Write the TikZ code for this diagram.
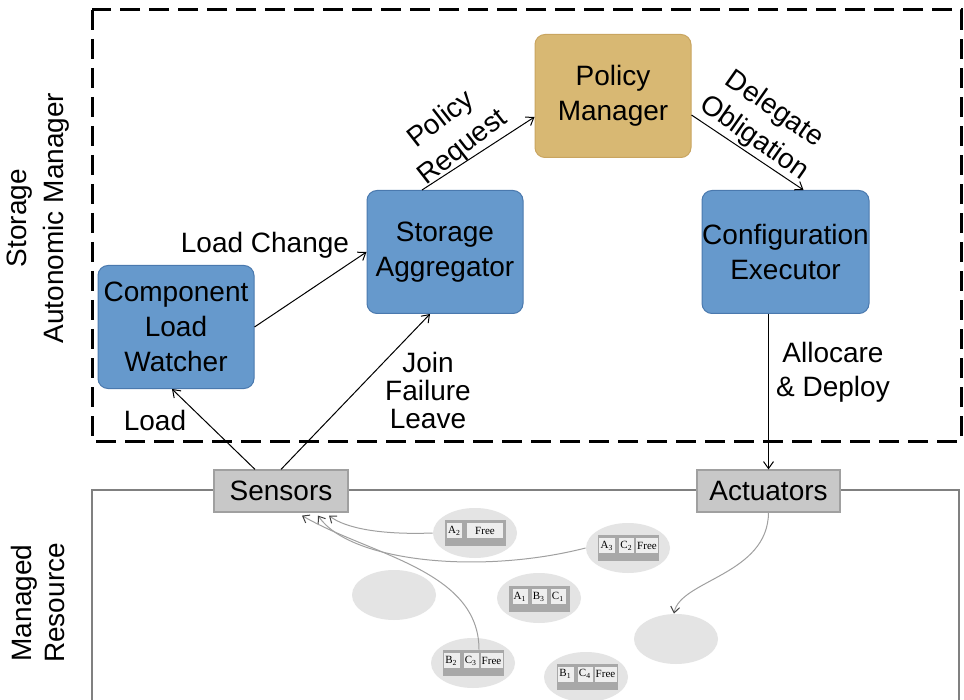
\documentclass[tikz,border=0pt]{standalone}
\usepackage{fontspec}
\setmainfont{Liberation Sans}
\newfontfamily\cellfont{Liberation Serif}
\usetikzlibrary{arrows.meta,shapes.geometric}
\definecolor{boxblue}{HTML}{6699CC}
\definecolor{boxblueb}{HTML}{4A79AE}
\definecolor{tanfill}{HTML}{D8B873}
\definecolor{tanline}{HTML}{C9A560}
\definecolor{sensfill}{HTML}{C8C8C8}
\definecolor{sensline}{HTML}{A0A0A0}
\definecolor{ellgray}{HTML}{E4E4E4}
\definecolor{bargray}{HTML}{A8A8A8}
\definecolor{cellgray}{HTML}{EEEEEE}
\definecolor{curvegray}{HTML}{A0A0A0}
\definecolor{mrline}{HTML}{808080}
\newcommand\barTwo[5]{%
  \node[barbox] (#1) at (#2,#3) {};
  \node[cellbox, minimum width=7.5pt] (#1a) at ({#2-20.5},{#3-2.5}) {#4};
  \node[cellbox, minimum width=18pt] (#1b) at ({#2+10},{#3-2.5}) {#5};}
\newcommand\barFree[5]{%
  \node[barbox] (#1) at (#2,#3) {};
  \node[cellbox, minimum width=8pt] (#1a) at ({#2-21.5},{#3-2.5}) {#4};
  \node[cellbox, minimum width=7.5pt] (#1b) at ({#2-2},{#3-2.5}) {#5};
  \node[cellbox, minimum width=11pt] (#1c) at ({#2+18.5},{#3-2.5}) {Free};}
\newcommand\barEq[6]{%
  \node[barbox] (#1) at (#2,#3) {};
  \node[cellbox, minimum width=7.5pt] (#1a) at ({#2-19},{#3-2.5}) {#4};
  \node[cellbox, minimum width=7.5pt] (#1b) at ({#2},{#3-2.5}) {#5};
  \node[cellbox, minimum width=7.5pt] (#1c) at ({#2+19},{#3-2.5}) {#6};}
\begin{document}
\begin{tikzpicture}[x=0.5pt,y=-0.5pt,
  txt/.style={font=\fontsize{14}{17.5}\selectfont, align=center, inner sep=0},
  mgr/.style={txt, draw=boxblueb, fill=boxblue, rounded corners=5pt, line width=0.5pt,
              minimum width=78pt, minimum height=61.5pt},
  pol/.style={mgr, draw=tanline, fill=tanfill},
  io/.style={txt, draw=sensline, fill=sensfill, line width=0.6pt, minimum height=21pt},
  arr/.style={draw=black, line width=0.5pt, -{Straight Barb[length=3.5pt,width=5pt]}},
  carr/.style={draw=curvegray, line width=0.5pt, -{Straight Barb[length=3pt,width=4.5pt,color=black!75]}},
  ell/.style={ellipse, fill=ellgray, minimum width=42pt, minimum height=25pt, inner sep=0},
  barbox/.style={fill=bargray, minimum width=30.5pt, minimum height=13pt, inner sep=0},
  cellbox/.style={fill=cellgray, minimum height=7.5pt, inner sep=0,
                  font=\cellfont\fontsize{5.5}{6}\selectfont}]
\useasboundingbox (0,0) rectangle (964,700);
\fill[white] (0,0) rectangle (964,700);
% frames
\draw[black, line width=1.5pt, dash pattern=on 10pt off 4.5pt] (92,10) rectangle (961,441);
\draw[mrline, line width=0.8pt] (92,700) -- (92,490) -- (959,490) -- (959,700);
% side labels
\node[txt, rotate=90, font=\fontsize{14}{18.5}\selectfont] (sam) at (38,218) {Storage\\Autonomic Manager};
\node[txt, rotate=90, font=\fontsize{14}{16.5}\selectfont] (mr) at (38,603) {Managed\\Resource};
% manager components
\node[mgr] (clw) at (176,327) {Component\\Load\\Watcher};
\node[mgr] (sa) at (445,252) {Storage\\Aggregator};
\node[pol] (pm) at (613,96) {Policy\\Manager};
\node[mgr, minimum width=83.5pt] (ce) at (785.5,252) {Configuration\\Executor};
% sensors / actuators
\node[io, minimum width=67pt] (sens) at (281,491) {Sensors};
\node[io, minimum width=71.5pt] (act) at (768.5,491) {Actuators};
% arrows
\draw[arr] (clw.east) -- (sa.west);
\draw[arr] ([xshift=-11.5pt]sa.north) -- ([yshift=-10.5pt]pm.west);
\draw[arr] ([yshift=-9.5pt]pm.east) -- ([xshift=9pt]ce.north);
\draw[arr] (ce.south -| act.north) -- (act.north);
\draw[arr] ([xshift=-13pt]sens.north) -- ([xshift=-2pt]clw.south);
\draw[arr] (sens.north) -- ([xshift=-7.5pt]sa.south);
% labels
\node[txt] (llc) at (265,245) {Load Change};
\node[txt, rotate=38] (lpr) at (452,134) {Policy\\Request};
\node[txt, rotate=-35] (ldo) at (764,124) {Delegate\\Obligation};
\node[txt, font=\fontsize{14}{14}\selectfont] (ljfl) at (428,390) {Join\\Failure\\Leave};
\node[txt] (lload) at (155,420) {Load};
\node[txt, font=\fontsize{14}{17}\selectfont] (lad) at (833,372) {Allocare\\\& Deploy};
% managed resource: nodes
\node[ell] (e1) at (475,533) {};
\node[ell] (e2) at (628,548) {};
\node[ell] (e3) at (394,595) {};
\node[ell] (e4) at (539,598) {};
\node[ell] (e5) at (676,639) {};
\node[ell] (e6) at (473,663) {};
\node[ell] (e7) at (586,677) {};
\barTwo{b1}{475}{533}{A\textsubscript{2}}{Free}
\barFree{b2}{628.5}{548}{A\textsubscript{3}}{C\textsubscript{2}}
\barEq{b4}{539}{599}{A\textsubscript{1}}{B\textsubscript{3}}{C\textsubscript{1}}
\barFree{b6}{473}{663}{B\textsubscript{2}}{C\textsubscript{3}}
\barFree{b7}{587}{676.5}{B\textsubscript{1}}{C\textsubscript{4}}
% curved connectors
\draw[carr] (e1.west) .. controls (380,535) and (345,528) .. ([xshift=24pt,yshift=-1.5pt]sens.south);
\draw[carr] (e2.west) .. controls (480,575) and (350,562) .. ([xshift=18.5pt,yshift=-1.5pt]sens.south);
\draw[carr] ([xshift=3pt]b6.north) .. controls (479,570) and (370,555) .. ([xshift=10.5pt,yshift=-1.5pt]sens.south);
\draw[carr] (act.south) .. controls (768,575) and (680,580) .. ([xshift=-1pt]e5.north);
\end{tikzpicture}
\end{document}
